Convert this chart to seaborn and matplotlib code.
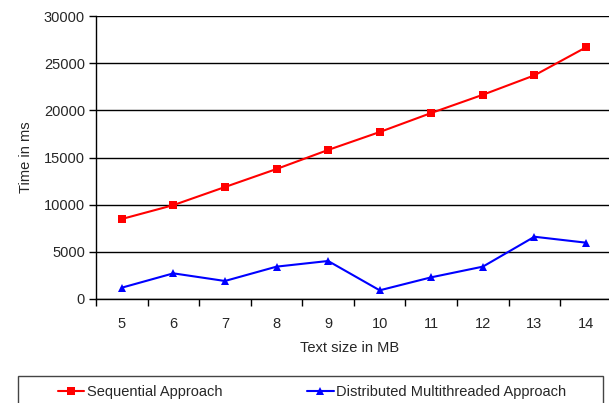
import matplotlib
matplotlib.use("Agg")
import matplotlib.pyplot as plt
import seaborn as sns
import pandas as pd
from matplotlib.patches import Rectangle
from matplotlib.ticker import FixedLocator, NullFormatter

sizes_mb = [5, 6, 7, 8, 9, 10, 11, 12, 13, 14]
sequential_ms = [8480, 9950, 11870, 13780, 15800, 17700, 19720, 21650, 23710, 26680]
distributed_ms = [1200, 2720, 1910, 3430, 4030, 920, 2300, 3430, 6600, 5970]
series_names = ["Sequential Approach", "Distributed Multithreaded Approach"]
y_ticks = [0, 5000, 10000, 15000, 20000, 25000, 30000]

df = pd.DataFrame({
    "size": sizes_mb * 2,
    "time": sequential_ms + distributed_ms,
    "series": [series_names[0]] * len(sizes_mb) + [series_names[1]] * len(sizes_mb),
})

sns.set_style("white")
plt.rcParams["font.family"] = ["Liberation Sans", "DejaVu Sans"]

fig = plt.figure(figsize=(6.09, 4.03), dpi=100)
ax = fig.add_axes([96 / 609, 104 / 403, 515.8 / 609, 283 / 403])

sns.lineplot(data=df, x="size", y="time", hue="series", style="series",
             palette={series_names[0]: "#ff0000", series_names[1]: "#0000ff"},
             markers={series_names[0]: "s", series_names[1]: "^"},
             dashes=False, markersize=5.5, markeredgewidth=0, linewidth=1.5,
             ax=ax, legend=False)

ax.set_xlim(min(sizes_mb) - 0.5, max(sizes_mb) + 0.5)
ax.set_ylim(0, 30000)
ax.set_yticks(y_ticks)
ax.set_yticklabels([str(v) for v in y_ticks])

# category-style x axis: tick marks between categories, labels at centres
ax.xaxis.set_major_locator(FixedLocator([s - 0.5 for s in sizes_mb] + [max(sizes_mb) + 0.5]))
ax.xaxis.set_major_formatter(NullFormatter())
ax.xaxis.set_minor_locator(FixedLocator(sizes_mb))
ax.set_xticklabels([str(s) for s in sizes_mb], minor=True)
ax.tick_params(axis="x", which="major", direction="out", length=5, width=1, color="black", bottom=True)
ax.tick_params(axis="x", which="minor", length=0, pad=13, labelsize=10.5)
ax.tick_params(axis="y", direction="out", length=5, width=1, color="black", left=True, labelsize=10.5, pad=3)

ax.grid(axis="y", color="black", linewidth=1)
ax.grid(axis="x", visible=False)
for side in ["top", "right"]:
    ax.spines[side].set_visible(False)
for side in ["left", "bottom"]:
    ax.spines[side].set_color("black")
    ax.spines[side].set_linewidth(1)

ax.set_xlabel("Text size in MB", fontsize=10.5)
ax.set_ylabel("Time in ms", fontsize=10.5, labelpad=8)
ax.xaxis.set_label_coords((350 - 96) / 515.8, -(341 - 299) / 283)

# legend frame running off the bottom edge
fig.patches.append(Rectangle((18 / 609, -0.02), 585 / 609, (403 - 376) / 403 + 0.02,
                             transform=fig.transFigure, facecolor="white",
                             edgecolor="#444444", linewidth=1, zorder=0))

handles = [
    plt.Line2D([], [], color="#ff0000", marker="s", markersize=5.5, markeredgewidth=0, linewidth=1.5),
    plt.Line2D([], [], color="#0000ff", marker="^", markersize=5.5, markeredgewidth=0, linewidth=1.5),
]
leg = fig.legend(handles, series_names, loc="center left",
                 bbox_to_anchor=(58 / 609, 1 - 392 / 403),
                 ncol=2, frameon=False, fontsize=10.5,
                 handlelength=1.8, handletextpad=0.2, columnspacing=5.8,
                 borderpad=0, borderaxespad=0)

fig.savefig("out.png", dpi=100)
